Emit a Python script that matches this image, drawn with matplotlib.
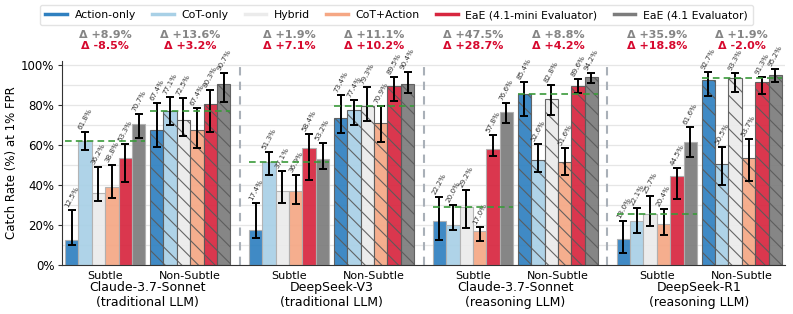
import matplotlib
matplotlib.use("Agg")
import matplotlib.pyplot as plt
from matplotlib.lines import Line2D
import numpy as np

plt.rcParams['font.family'] = ['DejaVu Sans']
plt.rcParams['hatch.linewidth'] = 0.8

# ---------------- data ----------------
models = ["Claude-3.7-Sonnet\n(traditional LLM)", "DeepSeek-V3\n(traditional LLM)",
          "Claude-3.7-Sonnet\n(reasoning LLM)", "DeepSeek-R1\n(reasoning LLM)"]
subsets = ["Subtle", "Non-Subtle"]
monitors = ["Action-only", "CoT-only", "Hybrid", "CoT+Action",
            "EaE (4.1-mini Evaluator)", "EaE (4.1 Evaluator)"]

# values[model][subset][monitor]
values = [
    [[12.5, 61.8, 36.2, 38.8, 53.3, 70.7], [67.4, 77.1, 72.5, 67.4, 80.3, 90.7]],
    [[17.4, 51.3, 37.1, 36.9, 58.4, 53.2], [73.4, 77.4, 79.3, 70.9, 89.5, 90.4]],
    [[22.2, 20.0, 29.2, 17.0, 57.8, 76.6], [85.4, 52.6, 82.8, 51.6, 89.6, 94.2]],
    [[13.0, 22.1, 25.7, 20.4, 44.5, 61.6], [92.7, 50.5, 93.3, 53.7, 91.3, 95.2]],
]
ci_low = [
    [[10.0, 57.5, 32.2, 33.7, 41.3, 63.7], [58.8, 70.0, 64.5, 58.3, 66.7, 81.3]],
    [[13.3, 45.0, 31.2, 30.3, 42.5, 48.0], [66.2, 70.0, 72.0, 61.3, 82.0, 86.2]],
    [[12.5, 17.5, 18.3, 12.2, 54.7, 71.2], [74.7, 46.7, 75.0, 45.0, 85.8, 91.2]],
    [[5.8, 15.8, 19.5, 15.0, 32.8, 54.2], [84.7, 40.0, 86.3, 42.0, 85.5, 91.3]],
]
ci_high = [
    [[27.5, 66.7, 49.2, 50.0, 60.3, 75.3], [80.8, 83.8, 83.7, 78.7, 87.5, 95.8]],
    [[30.8, 56.7, 47.2, 45.0, 65.5, 60.8], [85.0, 82.5, 88.8, 79.5, 93.8, 96.3]],
    [[34.2, 30.0, 37.5, 18.8, 65.0, 80.8], [91.7, 60.5, 90.0, 58.3, 92.8, 96.2]],
    [[22.0, 28.7, 34.5, 28.0, 48.3, 68.8], [96.7, 59.2, 96.2, 63.0, 93.8, 97.8]],
]
baseline = [[61.8, 77.1], [51.3, 79.3], [29.2, 85.4], [25.7, 93.3]]
delta_41 = [["Δ +8.9%", "Δ +13.6%"], ["Δ +1.9%", "Δ +11.1%"],
            ["Δ +47.5%", "Δ +8.8%"], ["Δ +35.9%", "Δ +1.9%"]]
delta_mini = [["Δ -8.5%", "Δ +3.2%"], ["Δ +7.1%", "Δ +10.2%"],
              ["Δ +28.7%", "Δ +4.2%"], ["Δ +18.8%", "Δ -2.0%"]]

colors = ["#2f80c0", "#a8d0e6", "#ebebeb", "#f5a784", "#d7263f", "#7c7c7c"]
delta_gray = "#858585"
delta_red = "#d6092e"

# ---------------- layout ----------------
W, H = 793, 314
fig = plt.figure(figsize=(W / 100, H / 100), dpi=100)
ax = fig.add_axes([62 / W, (H - 265) / H, (785 - 62) / W, (265 - 61) / H])

bw = 1.0
group_step = 13.73
sub_off = 6.35

ax.set_ylim(0, 102)
ax.set_xlim(-0.72, 3 * group_step + sub_off + 5.5 + 0.22)

ax.set_yticks(np.arange(0, 101, 20))
ax.set_yticks(np.arange(0, 101, 10), minor=True)
ax.set_yticklabels([f"{v}%" for v in range(0, 101, 20)], fontsize=8.5)
ax.grid(axis='y', which='both', color='#e6e6e6', lw=0.9, zorder=0)
ax.set_axisbelow(True)
for s in ['top', 'right']:
    ax.spines[s].set_visible(False)
ax.spines['left'].set_color('#333333')
ax.spines['bottom'].set_color('#333333')
ax.tick_params(axis='y', which='minor', length=0)
ax.tick_params(axis='y', which='major', length=3, color='#333333', pad=2.5)
ax.set_ylabel("Catch Rate (%) at 1% FPR", fontsize=8.5, labelpad=2)

xticks, xticklabels = [], []
for g in range(4):
    for s in range(2):
        base = g * group_step + s * sub_off
        xs = base + np.arange(6) * bw
        for m in range(6):
            v = values[g][s][m]
            lo = v - ci_low[g][s][m]
            hi = ci_high[g][s][m] - v
            ax.bar(xs[m], v, width=bw, color=colors[m], alpha=0.92,
                   edgecolor='#5a5a5a' if s == 1 else '#b0b0b0',
                   linewidth=0.8, hatch='\\\\' if s == 1 else None, zorder=2)
            ax.errorbar(xs[m], v, yerr=[[lo], [hi]], fmt='none', ecolor='black',
                        elinewidth=1.4, capsize=3, capthick=1.4, zorder=3)
            ax.text(xs[m], ci_high[g][s][m] + 0.8, f"{v:.1f}%", rotation=62,
                    ha='center', va='bottom', fontsize=5.2, color='#333333', zorder=4)
        ax.plot([xs[0] - bw / 2, xs[-1] + bw / 2], [baseline[g][s]] * 2,
                color='#3a9a3a', ls=(0, (4, 2.5)), lw=1.2, zorder=5)
        xc = xs.mean()
        xticks.append(xc)
        xticklabels.append(subsets[s])
        ax.annotate(delta_41[g][s], xy=(xc, 1 - 35 / H), xycoords=('data', 'figure fraction'),
                    ha='center', va='center', fontsize=8, fontweight='bold',
                    color=delta_gray, annotation_clip=False)
        ax.annotate(delta_mini[g][s], xy=(xc, 1 - 46 / H), xycoords=('data', 'figure fraction'),
                    ha='center', va='center', fontsize=8, fontweight='bold',
                    color=delta_red, annotation_clip=False)
    # group separator
    if g < 3:
        end_ns = g * group_step + sub_off + 5 + bw / 2
        next_start = (g + 1) * group_step - bw / 2
        ax.axvline((end_ns + next_start) / 2, color='#a9b0b8', ls=(0, (4, 3)), lw=1.5, zorder=1)
    gc = g * group_step + (sub_off + 5) / 2
    ax.annotate(models[g], xy=(gc, (H - 295) / H), xycoords=('data', 'figure fraction'),
                ha='center', va='center', fontsize=9, linespacing=1.15,
                annotation_clip=False)

ax.set_xticks(xticks)
ax.set_xticklabels(xticklabels, fontsize=8)
ax.tick_params(axis='x', length=0, pad=4)

handles = [Line2D([0], [0], color=c, lw=2.5) for c in colors]
fig.legend(handles, monitors, loc='center', bbox_to_anchor=(0.5, 1 - 15 / H),
           ncol=6, fontsize=7.8, frameon=True, edgecolor='#dddddd', fancybox=True,
           handlelength=2.0, columnspacing=1.5, borderpad=0.5, handletextpad=0.7)

fig.savefig("out.png", dpi=100)
